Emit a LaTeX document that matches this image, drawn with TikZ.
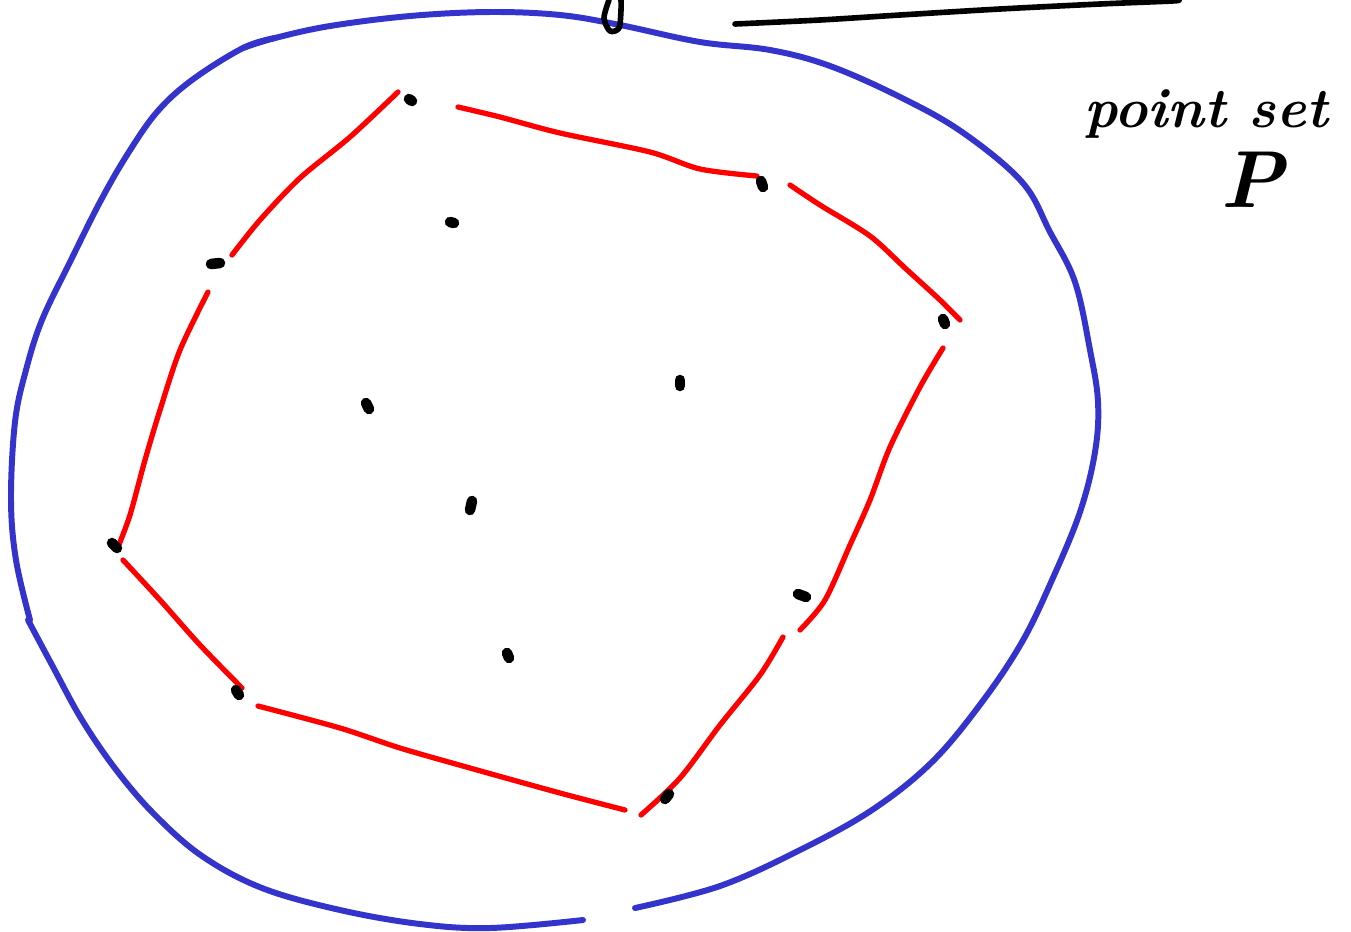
\documentclass[tikz,border=0pt]{standalone}
\usepackage{fontspec}
\definecolor{penblue}{RGB}{52,52,204}
\definecolor{penred}{RGB}{255,0,0}
\tikzset{
  bound/.style={draw=penblue,line width=3.4pt},
  hull/.style={draw=penred,line width=3pt},
  ink/.style={draw=black,line width=3.2pt},
  dot/.style={draw=black,line width=6pt}
}
\begin{document}
\begin{tikzpicture}[x=0.02cm,y=-0.02cm,line cap=round,line join=round,every node/.style={inner sep=0pt,font=\itshape\bfseries}]
  \useasboundingbox (0,0) rectangle (1351,931);
  % 外圈
  \draw[bound] plot[smooth,tension=0.6] coordinates {(243,48) (275,38) (330,26) (410,16) (490,12) (560,15) (620,25) (700,42) (770,50) (830,66) (900,97) (962,132) (1022,182) (1050,232) (1075,282) (1090,350) (1098,402) (1095,452) (1080,512) (1052,580) (1022,642) (982,702) (932,762) (872,810) (800,850) (720,886) (635,908)};
  \draw[bound] plot[smooth,tension=0.6] coordinates {(583,920) (490,928) (420,924) (340,910) (262,888) (202,856) (155,815) (117,771) (82,720) (52,665) (28,620)};
  \draw[bound] plot[smooth,tension=0.6] coordinates {(30,620) (16,560) (11,500) (15,422) (26,370) (42,320) (70,262) (100,202) (127,155) (157,112) (192,80) (243,48) (275,38)};
  % 凸包
  \draw[hull] plot[smooth] coordinates {(232,255) (260,220) (300,178) (350,137) (398,92)};
  \draw[hull] plot[smooth] coordinates {(458,107) (500,117) (560,133) (650,152) (700,169) (757,176)};
  \draw[hull] plot[smooth] coordinates {(790,185) (820,205) (870,236) (905,268) (940,300) (960,320)};
  \draw[hull] plot[smooth] coordinates {(943,348) (920,387) (890,447) (870,500) (850,545) (825,600) (800,630)};
  \draw[hull] plot[smooth] coordinates {(783,637) (760,675) (720,725) (680,778) (641,815)};
  \draw[hull] plot[smooth] coordinates {(625,810) (560,793) (470,768) (400,748) (340,728) (258,706)};
  \draw[hull] plot[smooth] coordinates {(242,688) (200,645) (160,600) (123,560)};
  \draw[hull] plot[smooth] coordinates {(118,547) (130,515) (145,460) (160,410) (180,350) (208,292)};
  % 点集
  \foreach \name/\xa/\ya/\xb/\yb in {
    a/409/99/412/101, b/761/181/763/187, c/943/319/945/324, d/798/594/806/597,
    e/665/799/669/794, f/236/690/239/695, g/112/543/117/548, h/211/264/220/263,
    i/450/222/454/223, j/680/380/680/386, k/366/403/369/409, l/472/501/470/510,
    m/507/653/509/658
  } {
    \coordinate (\name) at (\xa,\ya);
    \draw[dot] (\name) -- (\xb,\yb);
  }
  % 顶部笔迹
  \draw[ink] plot[smooth] coordinates {(609,0) (604,18) (610,31) (619,28) (621,10) (621,0)};
  \draw[ink] plot[smooth] coordinates {(735,24) (820,20) (900,15) (1000,9) (1100,4) (1172,1) (1178,0)};
  % 标注
  \node[anchor=base west,font=\itshape\bfseries\fontsize{32}{36}\selectfont] (pointset) at (1084,127) {point set};
  \node[font=\itshape\bfseries\fontsize{46}{50}\selectfont] (setP) at (1252,180) {P};
\end{tikzpicture}
\end{document}
